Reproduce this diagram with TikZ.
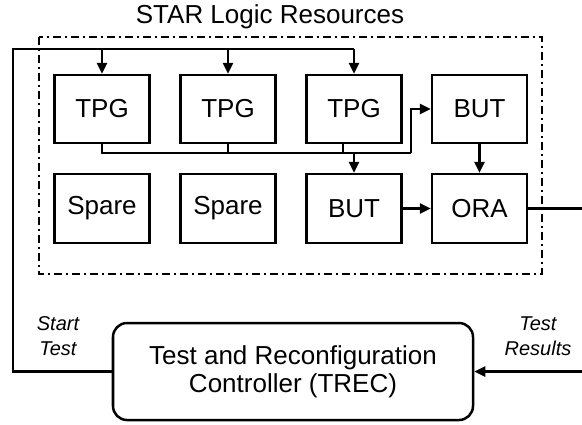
\documentclass[tikz,border=0pt]{standalone}
\usepackage{fontspec}
\setmainfont{Liberation Sans}
\usetikzlibrary{arrows.meta, positioning}

\tikzset{
  blk/.style   = {draw, line width=2.5bp, minimum width=95bp, minimum height=68bp,
                  inner sep=0pt, font=\fontsize{26bp}{28bp}\selectfont},
  wire/.style  = {line width=2.5bp},
  lbl/.style   = {align=center, inner sep=0pt, font=\fontsize{20bp}{25bp}\selectfont\itshape},
  resbox/.style= {line width=2.5bp, dash pattern=on 8bp off 4bp on 2bp off 4bp}
}

\begin{document}
\begin{tikzpicture}[x=1bp, y=-1bp, > = {Triangle[length=11bp, width=10bp]}]
			\useasboundingbox (0,0) rectangle (582,424);
			
			%% STAR Logic Resources
			\node [font=\fontsize{26bp}{28bp}\selectfont] (title) at (270,17) {STAR Logic Resources};
			\draw [resbox] (39,37) rectangle (542,274);
			
			\node [blk] (tpg1) at (102,109) {TPG};
			\node [blk] (tpg2) at (228,109) {TPG};
			\node [blk] (tpg3) at (354,109) {TPG};
			\node [blk] (but1) at (479.5,109) {BUT};
			
			\node [blk, minimum height=69bp] (spare1) at (102,208.5) {Spare};
			\node [blk, minimum height=69bp] (spare2) at (228,208.5) {Spare};
			\node [blk, minimum height=69bp] (but2) at (354,208.5) {BUT};
			\node [blk, minimum height=69bp] (ora) at (479.5,208.5) {ORA};
			
			%% TREC
			\node [blk, rounded corners=14bp, minimum width=360bp, minimum height=97bp, align=center]
			(trec) at (293,371.5) {Test and Reconfiguration\\Controller (TREC)};
			
			\coordinate (ctl) at (13,49);
			\coordinate (bus) at (411,153);
			\coordinate (out) at (582,211);
			\coordinate (res) at (582,369);
			
			%% Start Test
			\draw [wire] (trec.west) -| (ctl) -- (tpg3.north |- ctl);
			\draw [wire, ->] (tpg1.north |- ctl) -- (tpg1.north);
			\draw [wire, ->] (tpg2.north |- ctl) -- (tpg2.north);
			\draw [wire, ->] (tpg3.north |- ctl) -- (tpg3.north);
			
			%% Bus
			\draw [wire] (tpg1.south) |- (bus);
			\draw [wire, ->] (bus) |- (but1.west);
			\draw [wire] (tpg2.south) -- (tpg2.south |- bus);
			\draw [wire] ([xshift=-11bp]tpg3.south) -- ++(0,10);
			\draw [wire, ->] (but2.north |- bus) -- (but2.north);
			
			\draw [wire, ->] (but1.south) -- (ora.north);
			\draw [wire, ->] (but2.east) -- (ora.east -| but2.east) -- (ora.west);
			\draw [wire] (ora.east) -- (ora.east -| out);
			
			%% Test Results
			\draw [wire, ->] (trec.east -| res) -- (trec.east);
			
			\node [lbl] (start) at (58,336) {Start\\Test};
			\node [lbl] (results) at (538,336) {Test\\Results};
		\end{tikzpicture}
\end{document}
